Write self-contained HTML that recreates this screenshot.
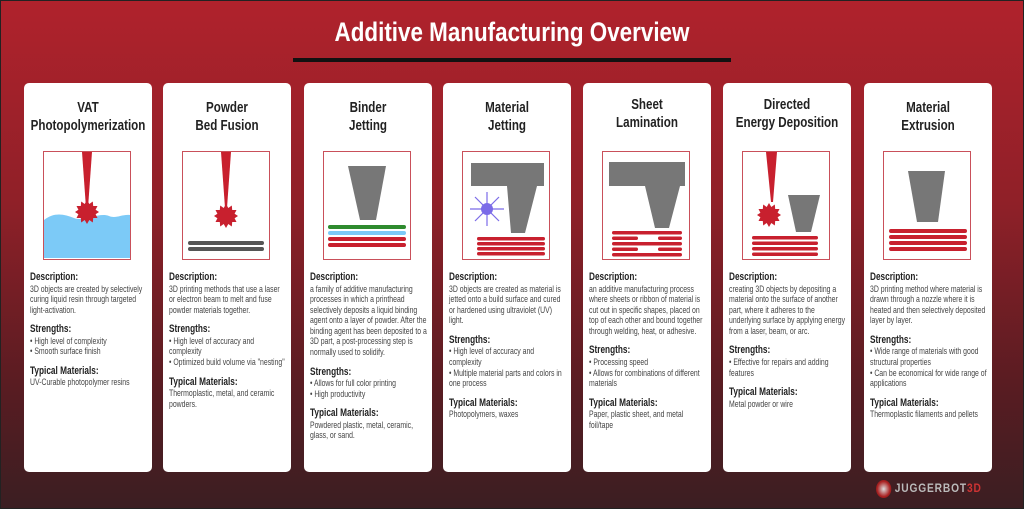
<!DOCTYPE html>
<html><head><meta charset="utf-8"><style>
*{margin:0;padding:0;box-sizing:border-box}
body{width:1024px;height:511px;overflow:hidden;background:#fff}
#bg{position:absolute;left:0;top:0;width:1024px;height:509px;background:linear-gradient(#b0222c 0%,#8f2028 40%,#5a1c22 75%,#3b1e22 100%);border:1px solid #222}
h1{position:absolute;left:0;width:1024px;top:17px;text-align:center;color:#fff;font:bold 27px "Liberation Sans",sans-serif;transform:scaleX(0.83)}
#rule{position:absolute;left:293px;top:58px;width:438px;height:4px;background:#111}
.card{position:absolute;top:83px;width:128px;height:389px;background:#fff;border-radius:5px}
.t{position:absolute;left:-20px;width:168px;top:16px;text-align:center;font:bold 14.5px/18px "Liberation Sans",sans-serif;color:#222;transform:scaleX(0.8)}
.box{position:absolute;left:19px;top:68px;width:88px;height:109px;border:1.5px solid #c9505a}
.box svg{position:absolute;left:0;top:0}
.tx{position:absolute;left:6px;top:189px;width:158px;font:9.2px/10.6px "Liberation Sans",sans-serif;color:#444;transform:scaleX(0.75);transform-origin:0 0}
.tx b{display:block;font-size:11px;color:#222;line-height:11.5px}
.tx p{margin-bottom:9px}
#logo{position:absolute;left:876px;top:480px;font:bold 12px "Liberation Sans",sans-serif;color:#bbb;letter-spacing:1px;transform:scaleX(0.85);transform-origin:0 0}
#logo i{display:inline-block;width:18px;height:18px;border-radius:50%;background:radial-gradient(#ddd,#a22 60%,#611);vertical-align:middle;margin-right:4px}
</style></head><body>
<div id="bg"></div>
<h1>Additive Manufacturing Overview</h1>
<div id="rule"></div>

<svg width="0" height="0" style="position:absolute"><defs>
<polygon id="burst" points="0,-12 2.3,-8 5.8,-10.5 6.2,-6 10.5,-6 8.6,-2.2 12,0 8.6,2.2 10.5,6 6.2,6 5.8,10.5 2.3,8 0,12 -2.3,8 -5.8,10.5 -6.2,6 -10.5,6 -8.6,2.2 -12,0 -8.6,-2.2 -10.5,-6 -6.2,-6 -5.8,-10.5 -2.3,-8" fill="#c8202e"/>
</defs></svg>

<div class="card" style="left:24px"><div class="t">VAT<br>Photopolymerization</div>
<div class="box"><svg width="86" height="106"><path d="M0,68 C10,60 20,62 30,66 C40,70 55,60 65,64 C72,67 78,62 86,63 L86,106 L0,106Z" fill="#7ccaf7"/><polygon points="38,0 48,0 44,56 42,56" fill="#c8202e"/><use href="#burst" x="43" y="60"/></svg></div>
<div class="tx"><p><b>Description:</b>3D objects are created by selectively curing liquid resin through targeted light-activation.</p><p><b>Strengths:</b>• High level of complexity<br>• Smooth surface finish</p><p><b>Typical Materials:</b>UV-Curable photopolymer resins</p></div></div>

<div class="card" style="left:163px"><div class="t">Powder<br>Bed Fusion</div>
<div class="box"><svg width="86" height="106"><polygon points="38,0 48,0 44,56 42,56" fill="#c8202e"/><use href="#burst" x="43" y="64"/><rect x="5" y="89" width="76" height="4" rx="2" fill="#555"/><rect x="5" y="95" width="76" height="4" rx="2" fill="#555"/></svg></div>
<div class="tx"><p><b>Description:</b>3D printing methods that use a laser or electron beam to melt and fuse powder materials together.</p><p><b>Strengths:</b>• High level of accuracy and complexity<br>• Optimized build volume via "nesting"</p><p><b>Typical Materials:</b>Thermoplastic, metal, and ceramic powders.</p></div></div>

<div class="card" style="left:304px"><div class="t">Binder<br>Jetting</div>
<div class="box"><svg width="86" height="106"><polygon points="24,14 62,14 52,68 36,68" fill="#777"/><rect x="4" y="73" width="78" height="4" rx="2" fill="#2e8b2e"/><rect x="4" y="79" width="78" height="4" rx="2" fill="#7ccaf7"/><rect x="4" y="85" width="78" height="4" rx="2" fill="#c8202e"/><rect x="4" y="91" width="78" height="4" rx="2" fill="#c8202e"/></svg></div>
<div class="tx"><p><b>Description:</b>a family of additive manufacturing processes in which a printhead selectively deposits a liquid binding agent onto a layer of powder. After the binding agent has been deposited to a 3D part, a post-processing step is normally used to solidify.</p><p><b>Strengths:</b>• Allows for full color printing<br>• High productivity</p><p><b>Typical Materials:</b>Powdered plastic, metal, ceramic, glass, or sand.</p></div></div>

<div class="card" style="left:443px"><div class="t">Material<br>Jetting</div>
<div class="box"><svg width="86" height="106"><polygon points="8,11 81,11 81,34 74,34 62,81 48,81 44,34 8,34" fill="#777"/><g stroke="#7b6be8" stroke-width="1.2"><line x1="7" y1="57" x2="41" y2="57"/><line x1="24" y1="40" x2="24" y2="74"/><line x1="12" y1="45" x2="36" y2="69"/><line x1="36" y1="45" x2="12" y2="69"/></g><circle cx="24" cy="57" r="6" fill="#7b6be8"/><g fill="#c8202e"><rect x="14" y="85" width="68" height="3.5" rx="1.7"/><rect x="14" y="90" width="68" height="3.5" rx="1.7"/><rect x="14" y="95" width="68" height="3.5" rx="1.7"/><rect x="14" y="100" width="68" height="3.5" rx="1.7"/></g></svg></div>
<div class="tx"><p><b>Description:</b>3D objects are created as material is jetted onto a build surface and cured or hardened using ultraviolet (UV) light.</p><p><b>Strengths:</b>• High level of accuracy and complexity<br>• Multiple material parts and colors in one process</p><p><b>Typical Materials:</b>Photopolymers, waxes</p></div></div>

<div class="card" style="left:583px"><div class="t" style="top:13px">Sheet<br>Lamination</div>
<div class="box"><svg width="86" height="106"><polygon points="6,10 82,10 82,34 77,34 66,76 52,76 42,34 6,34" fill="#777"/><g fill="#c8202e"><rect x="9" y="79" width="70" height="3.5" rx="1.7"/><rect x="9" y="84.5" width="26" height="3.5" rx="1.7"/><rect x="55" y="84.5" width="24" height="3.5" rx="1.7"/><rect x="9" y="90" width="70" height="3.5" rx="1.7"/><rect x="9" y="95.5" width="26" height="3.5" rx="1.7"/><rect x="55" y="95.5" width="24" height="3.5" rx="1.7"/><rect x="9" y="101" width="70" height="3.5" rx="1.7"/></g></svg></div>
<div class="tx"><p><b>Description:</b>an additive manufacturing process where sheets or ribbon of material is cut out in specific shapes, placed on top of each other and bound together through welding, heat, or adhesive.</p><p><b>Strengths:</b>• Processing speed<br>• Allows for combinations of different materials</p><p><b>Typical Materials:</b>Paper, plastic sheet, and metal foil/tape</p></div></div>

<div class="card" style="left:723px"><div class="t" style="top:13px">Directed<br>Energy Deposition</div>
<div class="box"><svg width="86" height="106"><polygon points="23,0 34,0 30,50 28,50" fill="#c8202e"/><use href="#burst" x="26" y="63"/><polygon points="45,43 77,43 68,80 53,80" fill="#777"/><g fill="#c8202e"><rect x="9" y="84" width="66" height="3.5" rx="1.7"/><rect x="9" y="89.5" width="66" height="3.5" rx="1.7"/><rect x="9" y="95" width="66" height="3.5" rx="1.7"/><rect x="9" y="100.5" width="66" height="3.5" rx="1.7"/></g></svg></div>
<div class="tx"><p><b>Description:</b>creating 3D objects by depositing a material onto the surface of another part, where it adheres to the underlying surface by applying energy from a laser, beam, or arc.</p><p><b>Strengths:</b>• Effective for repairs and adding features</p><p><b>Typical Materials:</b>Metal powder or wire</p></div></div>

<div class="card" style="left:864px"><div class="t">Material<br>Extrusion</div>
<div class="box"><svg width="86" height="106"><polygon points="24,19 61,19 54,70 33,70" fill="#777"/><g fill="#c8202e"><rect x="5" y="77" width="78" height="4" rx="2"/><rect x="5" y="83" width="78" height="4" rx="2"/><rect x="5" y="89" width="78" height="4" rx="2"/><rect x="5" y="95" width="78" height="4" rx="2"/></g></svg></div>
<div class="tx"><p><b>Description:</b>3D printing method where material is drawn through a nozzle where it is heated and then selectively deposited layer by layer.</p><p><b>Strengths:</b>• Wide range of materials with good structural properties<br>• Can be economical for wide range of applications</p><p><b>Typical Materials:</b>Thermoplastic filaments and pellets</p></div></div>

<div id="logo"><i></i>JUGGERBOT<span style="color:#c33">3D</span></div>
</body></html>
